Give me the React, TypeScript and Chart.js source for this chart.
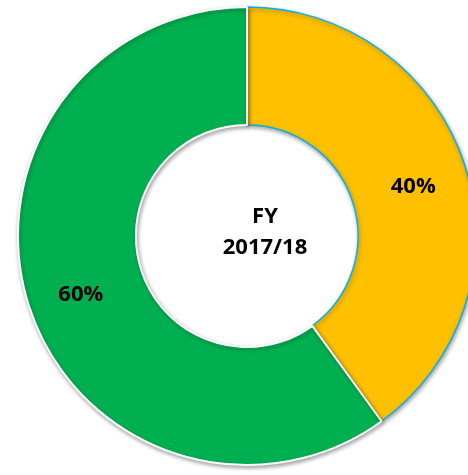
import React, { useEffect, useRef } from "react";
import { Chart, registerables } from "chart.js";

Chart.register(...registerables);

const categories = ["Segment A", "Segment B"];
const values = [40, 60];
const valueLabels = ["40%", "60%"];
const colors = ["#FFC000", "#00B050"];
const borderColors = ["#00B0F0", "#FFFFFF"];
const centerLines = ["FY", "2017/18"];

const FONT = "'Open Sans', 'DejaVu Sans', sans-serif";

export default function App() {
  const ref = useRef<HTMLCanvasElement | null>(null);

  useEffect(() => {
    document.body.style.margin = "0";
    document.body.style.overflow = "hidden";
    const canvas = ref.current;
    if (!canvas) return;

    const shadowPlugin = {
      id: "ringShadow",
      beforeDatasetsDraw(chart: any) {
        const ctx = chart.ctx;
        ctx.save();
        ctx.shadowColor = "rgba(0,0,0,0.35)";
        ctx.shadowBlur = 4;
        ctx.shadowOffsetX = 1;
        ctx.shadowOffsetY = 2;
      },
      afterDatasetsDraw(chart: any) {
        chart.ctx.restore();
      },
    };

    const labelPlugin = {
      id: "labels",
      afterDraw(chart: any) {
        const ctx = chart.ctx;
        const meta = chart.getDatasetMeta(0);
        ctx.save();
        ctx.fillStyle = "#000";
        ctx.textAlign = "center";
        ctx.textBaseline = "middle";
        ctx.font = `bold 22px ${FONT}`;
        meta.data.forEach((arc: any, i: number) => {
          const p = arc.getProps(["x", "y", "startAngle", "endAngle", "innerRadius", "outerRadius"], true);
          const mid = (p.startAngle + p.endAngle) / 2;
          const r = p.innerRadius + 0.54 * (p.outerRadius - p.innerRadius);
          ctx.fillText(valueLabels[i], p.x + Math.cos(mid) * r, p.y + Math.sin(mid) * r + 5);
        });
        const a0 = meta.data[0];
        const cx = a0.x + 18;
        const cy = a0.y;
        ctx.fillText(centerLines[0], cx, cy - 19);
        ctx.fillText(centerLines[1], cx, cy + 12);
        ctx.restore();
      },
    };

    const chart = new Chart(canvas, {
      type: "doughnut",
      data: {
        labels: categories,
        datasets: [
          {
            data: values,
            backgroundColor: colors,
            borderColor: borderColors,
            borderWidth: [1.5, 2],
            hoverOffset: 0,
          },
        ],
      },
      options: {
        responsive: false,
        animation: false,
        radius: 229,
        cutout: 114,
        rotation: 0,
        plugins: {
          legend: { display: false },
          tooltip: { enabled: false },
        },
        events: [],
      },
      plugins: [shadowPlugin, labelPlugin],
    });

    return () => chart.destroy();
  }, []);

  return (
    <div style={{ position: "relative", width: 468, height: 475, overflow: "hidden", background: "#fff" }}>
      <canvas
        ref={ref}
        width={494}
        height={472}
        style={{ position: "absolute", left: 0, top: 0, width: 494, height: 472 }}
      />
    </div>
  );
}
